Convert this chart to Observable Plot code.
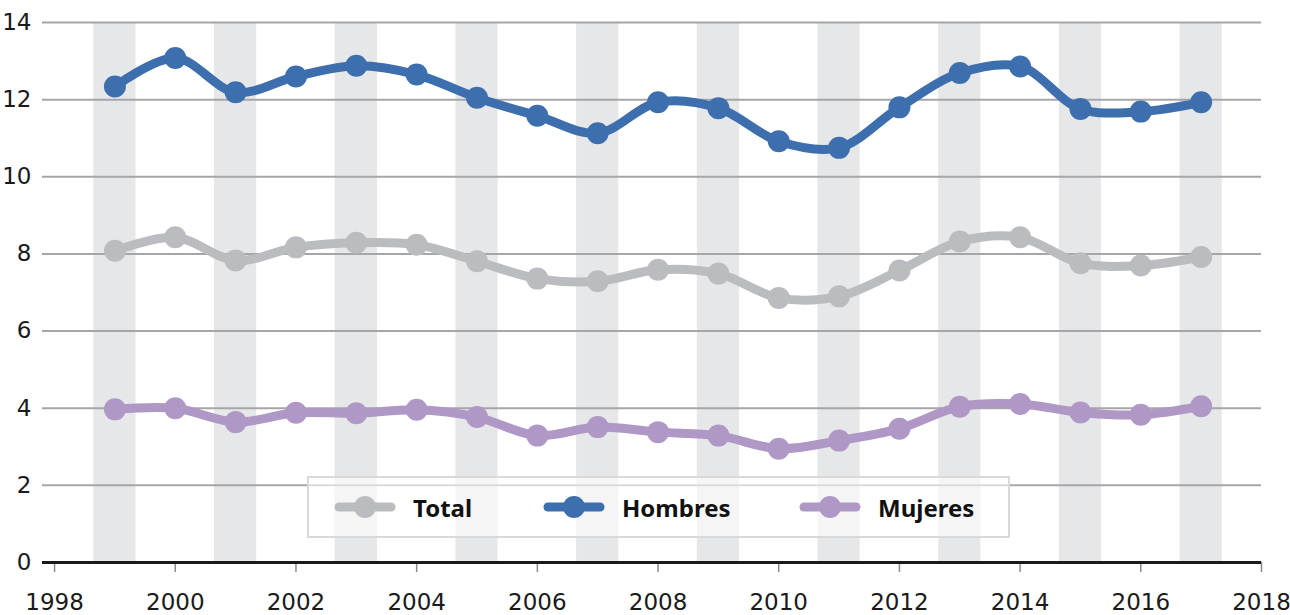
<!DOCTYPE html>
<html>
<head>
<meta charset="utf-8">
<script src="https://cdn.jsdelivr.net/npm/d3@7"></script>
<script src="https://cdn.jsdelivr.net/npm/@observablehq/plot@0.6"></script>
<style>
  html, body { margin: 0; padding: 0; background: #fff; }
  #wrap { position: relative; width: 1290px; height: 615px; font-family: "Noto Sans", sans-serif; }
  #legend { position: absolute; left: 307px; top: 476px; width: 699px; height: 58px;
            background: rgba(255,255,255,0.6); border: 2px solid #d9d9da; }
  .item { position: absolute; top: 0; height: 58px; display: flex; align-items: center; }
  .item span { font-weight: 700; font-size: 24px; color: #111; margin-left: 17px; }
</style>
</head>
<body>
<div id="wrap"><div id="legend"></div></div>
<script>
const years = [1999,2000,2001,2002,2003,2004,2005,2006,2007,2008,2009,2010,2011,2012,2013,2014,2015,2016,2017];
const total   = [8.08,8.43,7.83,8.17,8.29,8.24,7.81,7.36,7.29,7.59,7.49,6.86,6.90,7.57,8.32,8.43,7.76,7.70,7.92];
const hombres = [12.34,13.08,12.19,12.60,12.88,12.65,12.05,11.58,11.13,11.93,11.78,10.92,10.75,11.80,12.69,12.86,11.76,11.69,11.93];
const mujeres = [3.97,4.00,3.64,3.88,3.87,3.96,3.77,3.29,3.51,3.38,3.29,2.95,3.16,3.47,4.04,4.11,3.89,3.83,4.05];
const seriesNames = ["Total", "Hombres", "Mujeres"];
const seriesColors = ["#bbbcc0", "#3d6fae", "#b098c6"];
const yTicks = [0,2,4,6,8,10,12,14];
const xTicks = [1998,2000,2002,2004,2006,2008,2010,2012,2014,2016,2018];
const bandYears = years.filter(y => y % 2 === 1);

const seriesValues = [total, hombres, mujeres];
const rows = [];
seriesNames.forEach((name, i) => years.forEach((yr, j) => rows.push({serie: name, year: yr, value: seriesValues[i][j]})));

const chart = Plot.plot({
  width: 1290,
  height: 615,
  marginLeft: 42,
  marginRight: 29,
  marginTop: 22,
  marginBottom: 53,
  style: {fontFamily: "'DejaVu Sans', sans-serif", fontSize: "23px", color: "#1a1a1a", background: "#fff"},
  x: {domain: [1997.8, 2018]},
  y: {domain: [0, 14]},
  color: {domain: seriesNames, range: seriesColors},
  marks: [
    Plot.rect(bandYears, {x1: d => d - 0.35, x2: d => d + 0.35, y1: 0, y2: 14, fill: "#e6e7e9"}),
    Plot.ruleY(yTicks.filter(d => d > 0), {stroke: "#a6a6a8", strokeWidth: 2}),
    Plot.axisY(yTicks, {tickSize: 0, tickPadding: 11, label: null, fontSize: 23}),
    Plot.axisX(xTicks, {tickSize: 10, tickPadding: 21, stroke: "#8a8a8a", strokeWidth: 1.5, label: null, tickFormat: d => String(d), fontSize: 23}),
    Plot.ruleY([0], {stroke: "#1a1a1a", strokeWidth: 3}),
    Plot.line(rows, {x: "year", y: "value", z: "serie", stroke: "serie", strokeWidth: 9, curve: "catmull-rom", strokeLinecap: "round", strokeLinejoin: "round"}),
    Plot.dot(rows, {x: "year", y: "value", fill: "serie", r: 11})
  ]
});
document.getElementById("wrap").prepend(chart);

// legend
const legend = document.getElementById("legend");
const legendLefts = [25, 234, 490];
seriesNames.forEach((name, i) => {
  const item = document.createElement("div");
  item.className = "item";
  item.style.left = legendLefts[i] + "px";
  item.innerHTML = `<svg width="62" height="26"><line x1="5" y1="13" x2="57" y2="13" stroke="${seriesColors[i]}" stroke-width="9" stroke-linecap="round"/><circle cx="31" cy="13" r="11" fill="${seriesColors[i]}"/></svg><span>${name}</span>`;
  legend.appendChild(item);
});
</script>
</body>
</html>
